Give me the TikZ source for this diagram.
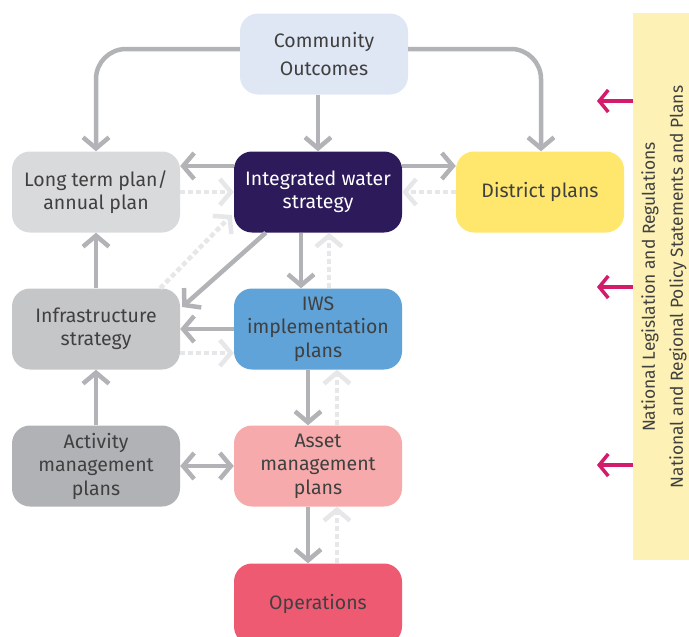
\documentclass[tikz,border=0pt]{standalone}
\usepackage{fontspec}
\setmainfont{Fira Sans}
\usetikzlibrary{arrows.meta}
\definecolor{cocol}{HTML}{DFE6F4}
\definecolor{ltpcol}{HTML}{D9DADC}
\definecolor{iwscol}{HTML}{2D1A5A}
\definecolor{dpcol}{HTML}{FFE76E}
\definecolor{infcol}{HTML}{C5C6C8}
\definecolor{implcol}{HTML}{5FA3D8}
\definecolor{ampcol}{HTML}{B0B2B5}
\definecolor{assetcol}{HTML}{F6AAAB}
\definecolor{opscol}{HTML}{EF5A73}
\definecolor{barcol}{HTML}{FDF1B6}
\definecolor{txtcol}{HTML}{404040}
\definecolor{arrcol}{HTML}{B1B3B6}
\definecolor{dotcol}{HTML}{E6E7E8}
\definecolor{magcol}{HTML}{D31B6C}
\tikzset{
  box/.style={rectangle, rounded corners=18pt, minimum width=168pt, minimum height=81pt,
    inner sep=0pt, align=center, text=txtcol, font=\fontsize{19.5}{23.5}\selectfont},
  arr/.style={draw=arrcol, line width=4.5pt, -{Straight Barb[length=11pt,width=26pt]}},
  darr/.style={draw=arrcol, line width=4.5pt, {Straight Barb[length=11pt,width=26pt]}-{Straight Barb[length=11pt,width=26pt]}},
  dotarr/.style={draw=dotcol, line width=4.5pt, dash pattern=on 5pt off 3pt, -{Straight Barb[length=11pt,width=26pt]}},
  magarr/.style={draw=magcol, line width=3.5pt, -{Straight Barb[length=9pt,width=22pt]}},
  sidetxt/.style={rotate=90, text=txtcol, font=\fontsize{17.4}{20}\selectfont, inner sep=0pt}
}
\begin{document}
\begin{tikzpicture}[x=1pt,y=-1pt]
\useasboundingbox (0,0) rectangle (689,637);
\clip (0,0) rectangle (689,637);
% side bar
\node[fill=barcol, minimum width=56pt, minimum height=547pt, inner sep=0pt] (bar) at (661,286.5) {};
\node[sidetxt] (law) at (650,287) {National Legislation and Regulations};
\node[sidetxt] (pol) at (678,287) {National and Regional Policy Statements and Plans};
\coordinate (m1) at (597,101);
\coordinate (m2) at (597,287);
\coordinate (m3) at (597,465);
\draw[magarr] (bar.west |- m1) -- (m1);
\draw[magarr] (bar.west |- m2) -- (m2);
\draw[magarr] (bar.west |- m3) -- (m3);
% boxes
\node[box, fill=cocol, font=\fontsize{19.5}{28.5}\selectfont] (co) at (324,54) {Community\\Outcomes};
\node[box, fill=ltpcol] (ltp) at (96,192) {Long term plan/\\annual plan};
\node[box, fill=iwscol, text=white] (iws) at (318,192) {Integrated water\\strategy};
\node[box, fill=dpcol] (dp) at (540,192) {District plans};
\node[box, fill=infcol] (inf) at (96,329) {Infrastructure\\strategy};
\node[box, fill=implcol] (impl) at (318,329) {IWS\\implementation\\plans};
\node[box, fill=ampcol] (amp) at (96,466) {Activity\\management\\plans};
\node[box, fill=assetcol] (asset) at (318,466) {Asset\\management\\plans};
\node[box, fill=opscol] (ops) at (318,604) {Operations};
% connectors from community outcomes
\draw[arr] (co.south -| iws.north) -- (iws.north);
\draw[arr, rounded corners=30pt] ([yshift=5pt]co.west) -| (ltp.north);
\draw[arr, rounded corners=30pt] ([yshift=5pt]co.east) -| ([xshift=1pt]dp.north);
% IWS row
\draw[arr] ([yshift=26pt]iws.west) -- ([yshift=26pt]ltp.east);
\draw[dotarr] (ltp.east) -- (iws.west);
\draw[arr] ([yshift=26pt]iws.east) -- ([yshift=26pt]dp.west);
\draw[dotarr] (dp.west) -- (iws.east);
% IWS to impl
\draw[arr] ([xshift=-17pt]iws.south) -- ([xshift=-17pt]impl.north);
\draw[dotarr] ([xshift=11pt]impl.north) -- ([xshift=11pt]iws.south);
% diagonals
\draw[arr] ([xshift=32pt]iws.south west) -- ([xshift=2pt,yshift=22pt]inf.east);
\draw[dotarr] ([xshift=-20pt]inf.north east) -- ([xshift=-2pt,yshift=-23pt]iws.west);
% impl to inf
\draw[arr] (impl.west) -- (inf.east);
\draw[dotarr] ([yshift=-24pt]inf.east) -- ([yshift=-24pt]impl.west);
% verticals left
\draw[arr] (inf.north) -- (ltp.south);
\draw[arr] (amp.north) -- (inf.south);
% amp <-> asset
\draw[darr] (amp.east) -- (asset.west);
% impl to asset, asset to ops
\draw[arr] ([xshift=-10pt]impl.south) -- ([xshift=-10pt]asset.north);
\draw[dotarr] ([xshift=19pt]asset.north) -- ([xshift=19pt]impl.south);
\draw[arr] ([xshift=-10pt]asset.south) -- ([xshift=-10pt]ops.north);
\draw[dotarr] ([xshift=19pt]ops.north) -- ([xshift=19pt]asset.south);
\end{tikzpicture}
\end{document}
